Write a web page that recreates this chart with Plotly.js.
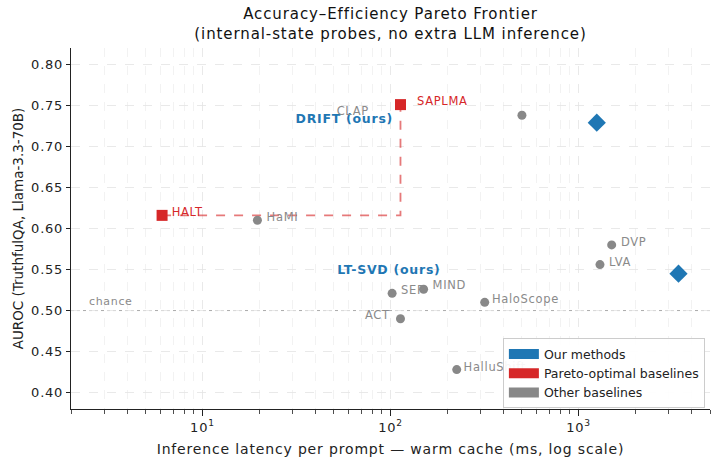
<!DOCTYPE html>
<html><head><meta charset="utf-8">
<script src="https://cdn.plot.ly/plotly-3.0.1.min.js"></script>
<style>
body{margin:0;background:#fff}
#chart text:not(.ytitle):not(.legendtext){letter-spacing:0.06em}
</style>
</head><body><div id="chart" style="width:717px;height:465px"></div>
<script>
// ---- data ----
const methods   = ['DRIFT (ours)','LT-SVD (ours)','SAPLMA','HALT','CLAP','HaMI','DVP','LVA','SEP','MIND','HaloScope','ACT','HalluShift'];
const latencyMs = [1250, 3400, 113, 6.1, 500, 19.6, 1500, 1300, 102, 150, 317, 113, 225];
const auroc     = [0.729, 0.545, 0.751, 0.616, 0.738, 0.610, 0.580, 0.556, 0.521, 0.526, 0.510, 0.490, 0.428];
const groups    = ['ours','ours','pareto','pareto','other','other','other','other','other','other','other','other','other'];
const groupNames = {ours:'Our methods', pareto:'Pareto-optimal baselines', other:'Other baselines'};
const chanceLevel = 0.5;
const yTickVals = [0.40,0.45,0.50,0.55,0.60,0.65,0.70,0.75,0.80];
const yTickText = ['0.40','0.45','0.50','0.55','0.60','0.65','0.70','0.75','0.80'];
const xTickVals = [10,100,1000];
const xTickText = ['10<sup>1</sup>','10<sup>2</sup>','10<sup>3</sup>'];
const xMinorVals = [2,3,4,5,6,7,8,9,20,30,40,50,60,70,80,90,200,300,400,500,600,700,800,900,2000,3000,4000,5000];

// ---- styles ----
const colors = {ours:'#1f77b4', pareto:'#d62728', other:'#888888'};
const symbols = {ours:'diamond', pareto:'square', other:'circle'};
const sizes = {ours:14, pareto:11, other:9};
// label offsets (px) relative to each marker: [xshift, yshift, xanchor]
const labelStyle = {
  'DRIFT (ours)': [-252, 4, 'center'],
  'LT-SVD (ours)': [-290, 4, 'center'],
  'SAPLMA': [17, 4, 'left'],
  'HALT': [9, 3, 'left'],
  'CLAP': [-169, 4, 'center'],
  'HaMI': [9, 3, 'left'],
  'DVP': [8, 3, 'left'],
  'LVA': [8, 3, 'left'],
  'SEP': [8, 3, 'left'],
  'MIND': [8, 4, 'left'],
  'HaloScope': [8, 3, 'left'],
  'ACT': [-8, 4, 'right'],
  'HalluShift': [8, 3, 'left']
};

const traces = [];
// Pareto frontier step line from the pareto points
const pIdx = groups.map((g,i)=>g==='pareto'?i:-1).filter(i=>i>=0).sort((a,b)=>latencyMs[a]-latencyMs[b]);
const fx = [], fy = [];
pIdx.forEach((i,k)=>{
  if(k>0){ fx.push(latencyMs[i]); fy.push(auroc[pIdx[k-1]]); }
  fx.push(latencyMs[i]); fy.push(auroc[i]);
});
traces.push({x:fx, y:fy, mode:'lines', line:{color:'rgba(214,39,40,0.62)', width:1.8, dash:'dash'}, showlegend:false, hoverinfo:'skip'});

['other','pareto','ours'].forEach(g=>{
  const idx = groups.map((gg,i)=>gg===g?i:-1).filter(i=>i>=0);
  traces.push({
    x: idx.map(i=>latencyMs[i]), y: idx.map(i=>auroc[i]), text: idx.map(i=>methods[i]),
    mode:'markers', type:'scatter', showlegend:false,
    marker:{color:colors[g], symbol:symbols[g], size:sizes[g], line:{width:0}}
  });
});
// legend entries (rectangular patches)
['ours','pareto','other'].forEach(g=>{
  traces.push({x:[null], y:[null], mode:'lines', name:groupNames[g], line:{color:colors[g], width:10}, showlegend:true});
});

const annotations = methods.map((m,i)=>{
  const s = labelStyle[m];
  const g = groups[i];
  const isOurs = g==='ours';
  return {
    x: Math.log10(latencyMs[i]), y: auroc[i], xref:'x', yref:'y', text: isOurs ? '<b>'+m+'</b>' : m,
    showarrow:false, xanchor:s[2], yanchor:'middle', xshift:s[0], yshift:s[1],
    font:{family:'DejaVu Sans', size: isOurs?12.5:11.5, color: g==='other' ? '#8a8a8a' : colors[g]}
  };
});
annotations.push({x:0.028, xref:'paper', y:chanceLevel, yref:'y', text:'chance', showarrow:false, xanchor:'left', yanchor:'bottom', yshift:1,
  font:{family:'DejaVu Sans', size:11, color:'#8a8a8a'}});

const layout = {
  width:717, height:465,
  margin:{l:71, r:7, t:48, b:56},
  paper_bgcolor:'#fff', plot_bgcolor:'#fff',
  font:{family:'DejaVu Sans', color:'#222', size:13},
  title:{text:'Accuracy–Efficiency Pareto Frontier<br>(internal-state probes, no extra LLM inference)',
    font:{family:'DejaVu Sans', size:15, color:'#111'}, x:0.5, xref:'paper', xanchor:'center', y:1, yref:'paper', yanchor:'bottom', pad:{b:29}},
  xaxis:{type:'log', range:[Math.log10(2), Math.log10(5000)],
    tickmode:'array', tickvals:xTickVals, ticktext:xTickText,
    ticks:'outside', ticklen:6, tickwidth:1, tickcolor:'#222',
    showgrid:true, gridcolor:'#e3e3e3', griddash:'dash', gridwidth:0.8,
    minor:{tickmode:'array', tickvals:xMinorVals, ticks:'outside', ticklen:3.5, tickcolor:'#222', tickwidth:0.8,
      showgrid:true, gridcolor:'#ececec', griddash:'dash', gridwidth:0.7},
    showline:true, linecolor:'#222', linewidth:1.2, zeroline:false,
    title:{text:'Inference latency per prompt — warm cache (ms, log scale)', font:{size:14, family:'DejaVu Sans', color:'#222'}, standoff:10},
    tickfont:{size:13}},
  yaxis:{range:[0.38,0.82], tickmode:'array', tickvals:yTickVals, ticktext:yTickText,
    ticks:'outside', ticklen:4, tickwidth:1, tickcolor:'#222',
    showgrid:true, gridcolor:'#e3e3e3', griddash:'dash', gridwidth:0.8,
    showline:true, linecolor:'#222', linewidth:1.2, zeroline:false,
    title:{text:'AUROC (TruthfulQA, Llama-3.3-70B)', font:{size:13.5, family:'DejaVu Sans', color:'#222'}, standoff:7},
    tickfont:{size:13}},
  shapes:[{type:'line', xref:'paper', x0:0, x1:1, yref:'y', y0:chanceLevel, y1:chanceLevel,
    line:{color:'#aaaaaa', width:1, dash:'dot'}, layer:'below'}],
  annotations: annotations,
  legend:{x:0.992, xanchor:'right', y:0.002, yanchor:'bottom', bgcolor:'rgba(255,255,255,0.92)', bordercolor:'#cccccc', borderwidth:1,
    font:{size:12.5, family:'DejaVu Sans', color:'#222'}, itemwidth:30, tracegroupgap:0},
  showlegend:true
};
Plotly.newPlot('chart', traces, layout, {displayModeBar:false, staticPlot:true}).then(gd=>{
  // draw the legend above the point labels, as in the reference
  const lg = gd.querySelector('g.legend');
  if(lg && lg.parentNode) lg.parentNode.appendChild(lg);
});
</script>
</body></html>
